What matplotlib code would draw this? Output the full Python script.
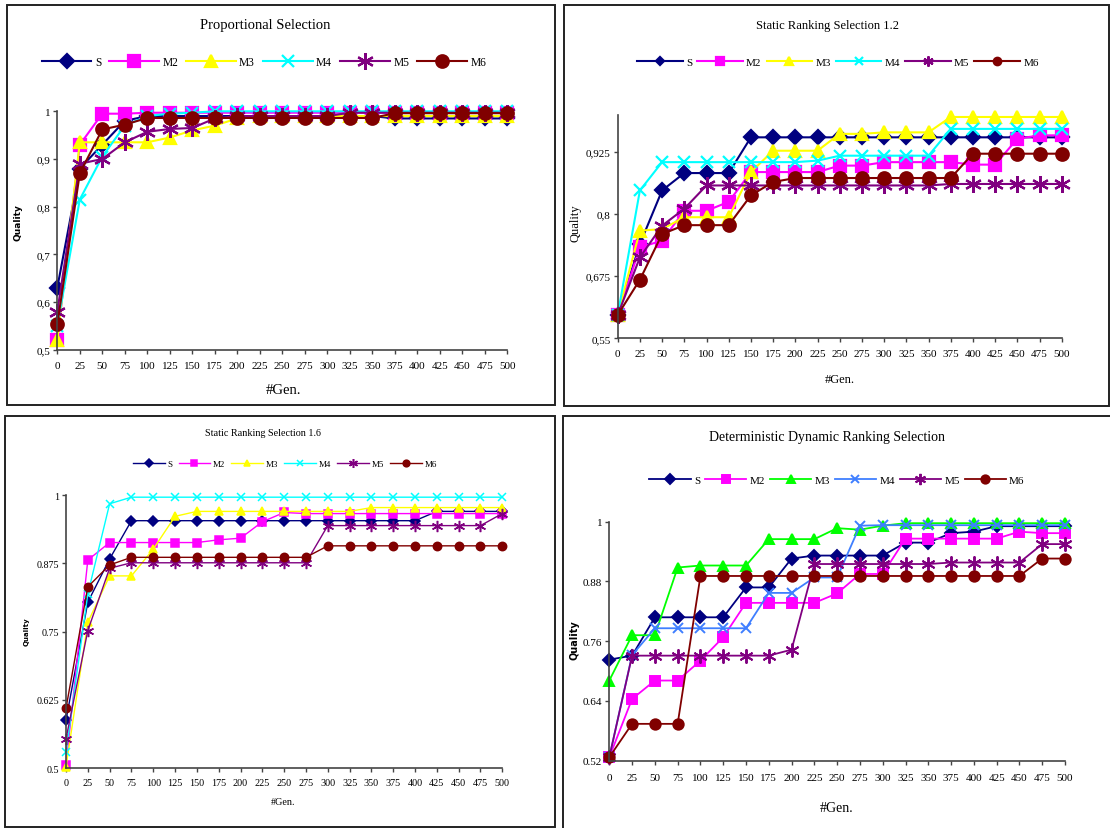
import matplotlib as mpl
from matplotlib import pyplot as plt
from matplotlib.patches import Rectangle

mpl.use("Agg")

W, H = 1110, 829

GENERATIONS = [0, 25, 50, 75, 100, 125, 150, 175, 200, 225, 250,
               275, 300, 325, 350, 375, 400, 425, 450, 475, 500]
SERIES_NAMES = ["S", "M2", "M3", "M4", "M5", "M6"]

# Proportional Selection
prop_s = [0.63, 0.88, 0.93, 0.98, 0.99, 0.99, 0.99, 0.99, 0.99, 0.99, 0.99,
          0.99, 0.99, 0.99, 0.99, 0.985, 0.985, 0.985, 0.985, 0.985, 0.985]
prop_m2 = [0.52, 0.93, 0.995, 0.995, 0.997, 0.997, 0.997, 0.997, 0.997, 0.997, 0.997,
           0.997, 0.997, 0.997, 0.997, 0.997, 0.997, 0.997, 0.997, 0.997, 0.997]
prop_m3 = [0.52, 0.935, 0.935, 0.935, 0.935, 0.945, 0.96, 0.97, 0.985, 0.99, 0.99,
           0.99, 0.99, 0.99, 0.99, 0.99, 0.99, 0.99, 0.99, 0.99, 0.99]
prop_m4 = [0.55, 0.815, 0.905, 0.97, 0.99, 0.995, 0.997, 1.0, 1.0, 1.0, 1.0,
           1.0, 1.0, 1.0, 1.0, 1.0, 1.0, 1.0, 1.0, 1.0, 1.0]
prop_m5 = [0.58, 0.89, 0.90, 0.935, 0.957, 0.963, 0.965, 0.985, 0.99, 0.99, 0.99,
           0.99, 0.99, 0.997, 0.997, 0.997, 0.997, 0.997, 0.997, 0.997, 0.997]
prop_m6 = [0.553, 0.87, 0.962, 0.972, 0.986, 0.986, 0.986, 0.986, 0.986, 0.986, 0.986,
           0.986, 0.986, 0.986, 0.986, 0.996, 0.996, 0.996, 0.996, 0.996, 0.996]
prop_yticks = [0.5, 0.6, 0.7, 0.8, 0.9, 1.0]
prop_ylabels = ["0,5", "0,6", "0,7", "0,8", "0,9", "1"]

# Static Ranking Selection 1.2
sr12_s = [0.597, 0.74, 0.848, 0.883, 0.883, 0.883, 0.955, 0.955, 0.955, 0.955, 0.955,
          0.955, 0.955, 0.955, 0.955, 0.955, 0.955, 0.955, 0.955, 0.955, 0.955]
sr12_m2 = [0.597, 0.733, 0.747, 0.807, 0.807, 0.825, 0.885, 0.885, 0.885, 0.885, 0.898,
           0.898, 0.905, 0.905, 0.905, 0.905, 0.9, 0.9, 0.952, 0.959, 0.959]
sr12_m3 = [0.597, 0.767, 0.77, 0.794, 0.794, 0.794, 0.885, 0.928, 0.928, 0.928, 0.962,
           0.962, 0.965, 0.965, 0.965, 0.996, 0.996, 0.996, 0.996, 0.996, 0.996]
sr12_m4 = [0.597, 0.848, 0.905, 0.905, 0.905, 0.905, 0.905, 0.905, 0.905, 0.908, 0.918,
           0.918, 0.918, 0.918, 0.918, 0.972, 0.972, 0.972, 0.972, 0.972, 0.972]
sr12_m5 = [0.597, 0.713, 0.777, 0.811, 0.858, 0.858, 0.858, 0.858, 0.858, 0.858, 0.858,
           0.858, 0.858, 0.858, 0.858, 0.861, 0.861, 0.861, 0.861, 0.861, 0.861]
sr12_m6 = [0.597, 0.668, 0.76, 0.778, 0.778, 0.778, 0.838, 0.865, 0.873, 0.873, 0.873,
           0.873, 0.873, 0.873, 0.873, 0.873, 0.922, 0.922, 0.922, 0.922, 0.922]
sr12_yticks = [0.55, 0.675, 0.8, 0.925]
sr12_ylabels = ["0,55", "0,675", "0,8", "0,925"]

# Static Ranking Selection 1.6
sr16_s = [0.588, 0.804, 0.883, 0.953, 0.953, 0.953, 0.953, 0.953, 0.953, 0.953, 0.953,
          0.953, 0.953, 0.953, 0.953, 0.953, 0.953, 0.97, 0.97, 0.97, 0.97]
sr16_m2 = [0.506, 0.881, 0.913, 0.913, 0.913, 0.913, 0.913, 0.918, 0.921, 0.951, 0.968,
           0.966, 0.966, 0.966, 0.966, 0.966, 0.966, 0.966, 0.966, 0.966, 0.966]
sr16_m3 = [0.503, 0.767, 0.852, 0.852, 0.901, 0.961, 0.97, 0.97, 0.97, 0.97, 0.97,
           0.97, 0.97, 0.97, 0.977, 0.977, 0.977, 0.977, 0.977, 0.977, 0.977]
sr16_m4 = [0.529, 0.819, 0.984, 0.996, 0.996, 0.996, 0.996, 0.996, 0.996, 0.996, 0.996,
           0.996, 0.996, 0.996, 0.996, 0.996, 0.996, 0.996, 0.996, 0.996, 0.996]
sr16_m5 = [0.554, 0.752, 0.866, 0.876, 0.876, 0.876, 0.876, 0.876, 0.876, 0.876, 0.876,
           0.876, 0.944, 0.944, 0.944, 0.944, 0.944, 0.944, 0.944, 0.944, 0.966]
sr16_m6 = [0.61, 0.832, 0.872, 0.886, 0.886, 0.886, 0.886, 0.886, 0.886, 0.886, 0.886,
           0.886, 0.907, 0.907, 0.907, 0.907, 0.907, 0.907, 0.907, 0.907, 0.907]
sr16_yticks = [0.5, 0.625, 0.75, 0.875, 1.0]
sr16_ylabels = ["0.5", "0.625", "0.75", "0.875", "1"]

# Deterministic Dynamic Ranking Selection
ddr_s = [0.723, 0.731, 0.808, 0.808, 0.808, 0.808, 0.868, 0.868, 0.926, 0.932, 0.932,
         0.932, 0.932, 0.958, 0.958, 0.977, 0.98, 0.991, 0.991, 0.991, 0.991]
ddr_m2 = [0.527, 0.644, 0.681, 0.681, 0.721, 0.768, 0.837, 0.837, 0.837, 0.837, 0.856,
          0.895, 0.895, 0.966, 0.966, 0.966, 0.966, 0.966, 0.98, 0.977, 0.977]
ddr_m3 = [0.681, 0.772, 0.772, 0.908, 0.912, 0.912, 0.912, 0.965, 0.965, 0.965, 0.987,
          0.984, 0.992, 0.997, 0.997, 0.997, 0.997, 0.997, 0.997, 0.997, 0.997]
ddr_m4 = [0.527, 0.732, 0.786, 0.786, 0.786, 0.786, 0.786, 0.857, 0.857, 0.888, 0.888,
          0.992, 0.993, 0.993, 0.993, 0.993, 0.993, 0.993, 0.993, 0.993, 0.993]
ddr_m5 = [0.527, 0.731, 0.731, 0.731, 0.731, 0.731, 0.731, 0.731, 0.743, 0.915, 0.915,
          0.915, 0.915, 0.915, 0.915, 0.918, 0.918, 0.918, 0.918, 0.955, 0.955]
ddr_m6 = [0.527, 0.594, 0.594, 0.594, 0.891, 0.891, 0.891, 0.891, 0.891, 0.891, 0.891,
          0.891, 0.891, 0.891, 0.891, 0.891, 0.891, 0.891, 0.891, 0.926, 0.926]
ddr_yticks = [0.52, 0.64, 0.76, 0.88, 1.0]
ddr_ylabels = ["0.52", "0.64", "0.76", "0.88", "1"]

EXCEL_COLORS = ["#000080", "#FF00FF", "#FFFF00", "#00FFFF", "#800080", "#800000"]
DDR_COLORS = ["#000080", "#FF00FF", "#00FF00", "#3F7FFF", "#800080", "#800000"]
MARKERS = ["D", "s", "^", "x", (6, 2, 0), "o"]
MARKER_SCALE = [0.8, 0.95, 1.0, 1.0, 1.35, 1.0]

plt.rcParams["font.family"] = ["Liberation Serif", "DejaVu Serif"]


def px_rect(x0, y0, x1, y1):
    return [x0 / W, 1 - y1 / H, (x1 - x0) / W, (y1 - y0) / H]


def fig_xy(x, y):
    return x / W, 1 - y / H


def draw_panel(fig, series, colors, yticks, ylabels, p):
    fig.add_artist(Rectangle(fig_xy(p["box"][0], p["box"][3]),
                             (p["box"][2] - p["box"][0]) / W,
                             (p["box"][3] - p["box"][1]) / H,
                             transform=fig.transFigure, fill=False,
                             ec="#222222", lw=1.4))
    ax = fig.add_axes(px_rect(*p["axes"]))
    for name, ys, color, marker, k in zip(SERIES_NAMES, series, colors, MARKERS, MARKER_SCALE):
        ax.plot(GENERATIONS, ys, color=color, lw=p["lw"], marker=marker,
                ms=p["ms"] * k, mfc=color, mec=color, mew=p["mew"],
                clip_on=False, label=name)
    ax.set_xlim(0, 500)
    ax.set_ylim(yticks[0], p["ytop"])
    ax.set_xticks(GENERATIONS)
    ax.set_xticklabels([str(g) for g in GENERATIONS])
    ax.set_yticks(yticks)
    ax.set_yticklabels(ylabels)
    for side in ("top", "right"):
        ax.spines[side].set_visible(False)
    for side in ("left", "bottom"):
        ax.spines[side].set_color("#444444")
        ax.spines[side].set_linewidth(1.2)
    ax.tick_params(axis="both", direction="out", length=3, width=1,
                   color="#444444", labelsize=p["tick_fs"])
    ax.tick_params(axis="x", pad=p["xpad"])
    ax.tick_params(axis="y", pad=2)

    fig.text(*fig_xy(*p["title_xy"]), p["title"], ha="center", va="center",
             fontsize=p["title_fs"])
    fig.text(*fig_xy(*p["xlabel_xy"]), "#Gen.", ha="center", va="center",
             fontsize=p["xlabel_fs"])
    fig.text(*fig_xy(*p["ylabel_xy"]), "Quality", ha="center", va="center",
             rotation=90, fontsize=p["ylabel_fs"], **p["ylabel_font"])

    ax.legend(loc="center", bbox_to_anchor=fig_xy(*p["legend_xy"]),
              bbox_transform=fig.transFigure, ncol=6, frameon=False,
              numpoints=1, fontsize=p["legend_fs"], markerscale=p["legend_ms"],
              handlelength=p["handlelength"], handletextpad=0.3,
              columnspacing=p["colspace"], borderpad=0)
    return ax


fig = plt.figure(figsize=(W / 100, H / 100), dpi=100)
fig.patch.set_facecolor("white")

bold_sans = {"family": "DejaVu Sans", "fontweight": "bold"}
plain_serif = {}

draw_panel(fig, [prop_s, prop_m2, prop_m3, prop_m4, prop_m5, prop_m6],
           EXCEL_COLORS, prop_yticks, prop_ylabels, {
               "box": (7, 6, 555, 406), "axes": (57.3, 112.3, 507.3, 350.7),
               "ytop": 1.0, "lw": 1.5, "ms": 9, "mew": 1.6,
               "tick_fs": 8, "xpad": 5,
               "title": "Proportional Selection", "title_xy": (265, 25), "title_fs": 10.5,
               "xlabel_xy": (283, 390), "xlabel_fs": 10.5,
               "ylabel_xy": (18, 223), "ylabel_fs": 6.5, "ylabel_font": bold_sans,
               "legend_xy": (264, 63), "legend_fs": 8.3, "legend_ms": 1.0,
               "handlelength": 4.3, "colspace": 0.7,
           })

draw_panel(fig, [sr12_s, sr12_m2, sr12_m3, sr12_m4, sr12_m5, sr12_m6],
           EXCEL_COLORS, sr12_yticks, sr12_ylabels, {
               "box": (564, 6, 1109, 407), "axes": (617.7, 116, 1061.7, 339.3),
               "ytop": 1.0, "lw": 1.5, "ms": 9, "mew": 1.6,
               "tick_fs": 8, "xpad": 5,
               "title": "Static Ranking Selection 1.2", "title_xy": (827, 26), "title_fs": 9,
               "xlabel_xy": (840, 380), "xlabel_fs": 9,
               "ylabel_xy": (575, 223), "ylabel_fs": 9, "ylabel_font": plain_serif,
               "legend_xy": (838, 63), "legend_fs": 8, "legend_ms": 0.6,
               "handlelength": 4.1, "colspace": 0.45,
           })

draw_panel(fig, [sr16_s, sr16_m2, sr16_m3, sr16_m4, sr16_m5, sr16_m6],
           EXCEL_COLORS, sr16_yticks, sr16_ylabels, {
               "box": (5, 417, 555, 828), "axes": (66, 496, 502.3, 769.3),
               "ytop": 1.0, "lw": 1.0, "ms": 6, "mew": 1.1,
               "tick_fs": 7.3, "xpad": 4,
               "title": "Static Ranking Selection 1.6", "title_xy": (263, 433), "title_fs": 7.3,
               "xlabel_xy": (283, 803), "xlabel_fs": 7.3,
               "ylabel_xy": (27, 632), "ylabel_fs": 5, "ylabel_font": bold_sans,
               "legend_xy": (285, 465), "legend_fs": 6.5, "legend_ms": 0.8,
               "handlelength": 3.5, "colspace": 0.7,
           })

draw_panel(fig, [ddr_s, ddr_m2, ddr_m3, ddr_m4, ddr_m5, ddr_m6],
           DDR_COLORS, ddr_yticks, ddr_ylabels, {
               "box": (563, 417, 1114, 834), "axes": (609.3, 522.7, 1065, 761.7),
               "ytop": 1.0, "lw": 1.3, "ms": 7.5, "mew": 1.4,
               "tick_fs": 8, "xpad": 6,
               "title": "Deterministic Dynamic Ranking Selection", "title_xy": (827, 438),
               "title_fs": 10,
               "xlabel_xy": (837, 809), "xlabel_fs": 10,
               "ylabel_xy": (575, 640), "ylabel_fs": 7, "ylabel_font": bold_sans,
               "legend_xy": (837, 481), "legend_fs": 8, "legend_ms": 0.8,
               "handlelength": 3.7, "colspace": 0.45,
           })

fig.savefig("out.png", dpi=100, facecolor="white")
